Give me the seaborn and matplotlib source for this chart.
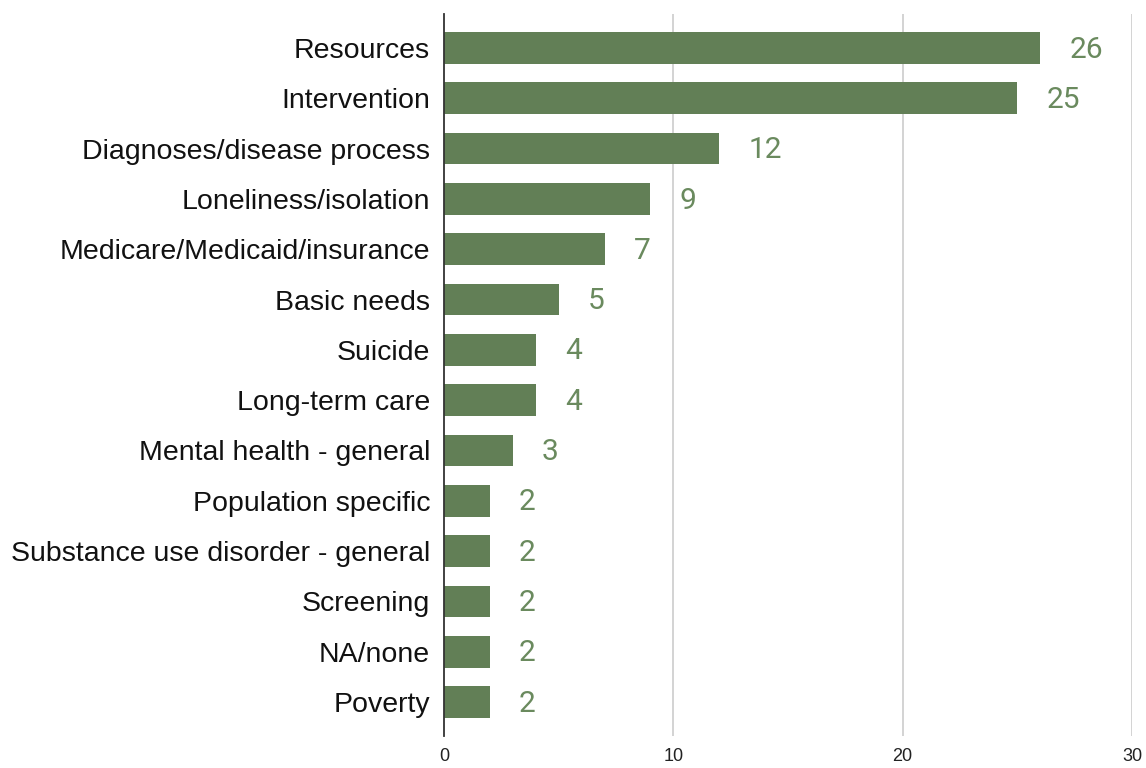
import matplotlib
matplotlib.use("Agg")
import matplotlib.pyplot as plt
import seaborn as sns
import pandas as pd

categories = [
    "Resources", "Intervention", "Diagnoses/disease process", "Loneliness/isolation",
    "Medicare/Medicaid/insurance", "Basic needs", "Suicide", "Long-term care",
    "Mental health - general", "Population specific", "Substance use disorder - general",
    "Screening", "NA/none", "Poverty",
]
counts = [26, 25, 12, 9, 7, 5, 4, 4, 3, 2, 2, 2, 2, 2]
x_ticks = [0, 10, 20, 30]

df = pd.DataFrame({"topic": categories, "count": counts})

sns.set_theme(style="white")
plt.rcParams["font.family"] = ["Liberation Sans", "DejaVu Sans"]

bar_color = "#627f56"
label_color = "#6a8a5e"

fig = plt.figure(figsize=(11.46, 7.68), dpi=100)
ax = fig.add_axes([0.3874, 0.0417, 0.6004, 0.9401])

sns.barplot(data=df, x="count", y="topic", color=bar_color, saturation=1,
            width=0.63, ax=ax, zorder=3)

for patch in ax.patches:
    patch.set_edgecolor("none")

# value labels to the right of each bar
for i, v in enumerate(counts):
    ax.annotate(str(v), xy=(v, i), xytext=(21, -1.2), textcoords="offset points",
                ha="left", va="center", fontsize=21.5, color=label_color,
                fontfamily=["Roboto", "DejaVu Sans"])

ax.set_xlim(0, 30)
ax.set_ylim(13.676, -0.676)
ax.set_xticks(x_ticks)
ax.set_xticklabels([str(t) for t in x_ticks], fontsize=13, color="#222222")
ax.tick_params(axis="x", length=0, pad=9)
ax.tick_params(axis="y", length=0, pad=10, labelsize=20.5, labelcolor="#111111")
ax.set_xlabel("")
ax.set_ylabel("")

for t in x_ticks[1:]:
    ax.axvline(t, color="#cccccc", linewidth=1.2, zorder=1)

for side in ["top", "right", "bottom"]:
    ax.spines[side].set_visible(False)
ax.spines["left"].set_color("#333333")
ax.spines["left"].set_linewidth(1.3)
ax.spines["left"].set_zorder(4)

fig.savefig("out.png", dpi=100, facecolor="white")
